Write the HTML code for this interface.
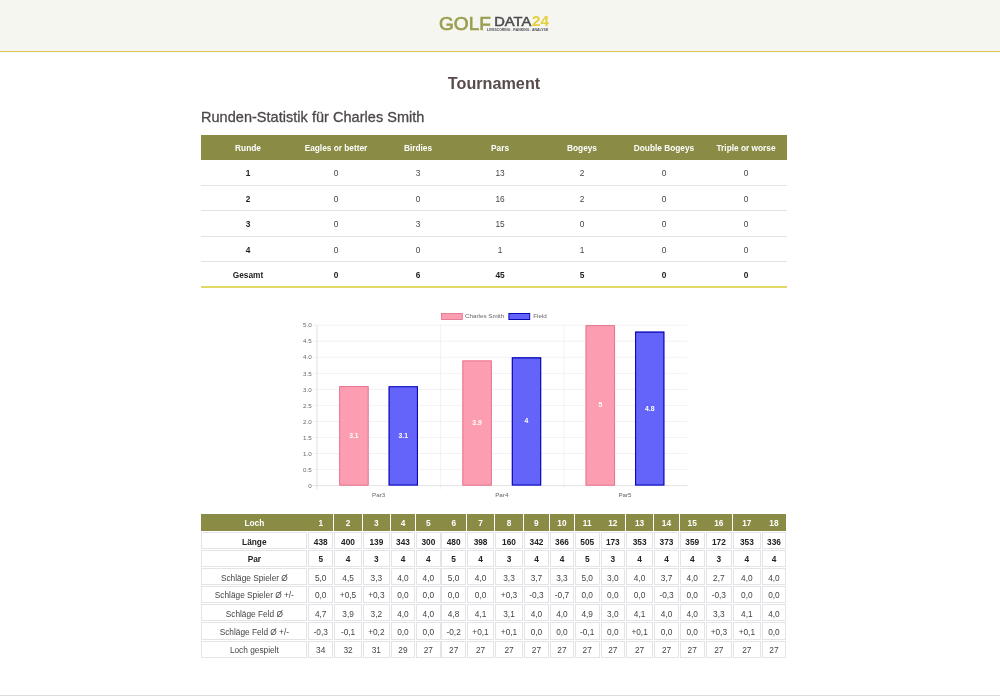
<!DOCTYPE html><html lang="de"><head><meta charset="utf-8"><title>Tournament</title><style>
*{box-sizing:border-box;margin:0;padding:0}
html,body{width:1000px;height:696px;overflow:hidden;background:#fff}
body{font-family:"Liberation Sans",sans-serif;color:#333;position:relative}
.hdr{position:absolute;left:0;top:0;width:1000px;height:51.7px;background:#f6f6f0;border-bottom:1.9px solid #dfc64e}
.logo{position:absolute;left:0;top:0;width:1000px;height:50px}
.title{position:absolute;left:0;width:988px;top:73.4px;text-align:center;font-weight:bold;font-size:16.2px;color:#584c4c;line-height:20px}
.h2{-webkit-text-stroke:0.3px #4d4848;position:absolute;left:201px;top:107.1px;font-size:14.5px;letter-spacing:0.03px;color:#4d4848;line-height:20px;white-space:nowrap}
.t1{position:absolute;left:201px;top:134.8px;width:586px;border-collapse:collapse;table-layout:fixed;font-size:8.3px;text-align:center;border-bottom:2px solid #e2d868}
.t1 th{padding-top:1.4px}.t1 td{padding-top:1.9px}
.t1 th{background:#8a8c46;color:#fff;font-weight:bold;height:24.8px;font-size:8.3px}
.t1 td{height:25.5px;border-top:1px solid #e3e3e3;color:#444}
.t1 tr:nth-child(2) td{border-top:none}
.t1 td:first-child,.t1 tr:last-child td{font-weight:bold;color:#222}
.t2{position:absolute;left:0;top:0;font-size:8.3px}
.c{position:absolute;text-align:center;border:0.6px solid #e4e4e8;color:#444;white-space:nowrap}
.c.h{background:#8a8c46;color:#fff;font-weight:bold;border-color:#8a8c46}
.c.b{font-weight:bold;color:#222}
.foot{position:absolute;left:0;top:695px;width:1000px;height:1px;background:#dcdcdc}
</style></head><body>
<div class="hdr"></div>
<svg class="logo" viewBox="0 0 1000 50" font-family="Liberation Sans, sans-serif">
<text x="439" y="30" font-size="19.2" fill="#9a9e50" stroke="#9a9e50" stroke-width="0.7" textLength="52" lengthAdjust="spacingAndGlyphs">GOLF</text>
<text x="494.2" y="26.1" font-size="12.9" fill="#4b4b4d" stroke="#4b4b4d" stroke-width="0.5" textLength="37" lengthAdjust="spacingAndGlyphs">DATA</text>
<text x="531.9" y="26.2" font-size="13.8" font-weight="bold" fill="#e6cf3e" textLength="17" lengthAdjust="spacingAndGlyphs">24</text>
<text x="486.8" y="31" font-size="3.3" font-weight="bold" fill="#4a4e5a" textLength="61.4" lengthAdjust="spacingAndGlyphs">LIVESCORING . RANKING . ANALYSE</text>
</svg>
<div class="title">Tournament</div>
<div class="h2">Runden-Statistik für Charles Smith</div>
<table class="t1"><colgroup><col style="width:94px"><col style="width:82px"><col style="width:82px"><col style="width:82px"><col style="width:82px"><col style="width:82px"><col style="width:82px"></colgroup>
<tr><th>Runde</th><th>Eagles or better</th><th>Birdies</th><th>Pars</th><th>Bogeys</th><th>Double Bogeys</th><th>Triple or worse</th></tr>
<tr><td>1</td><td>0</td><td>3</td><td>13</td><td>2</td><td>0</td><td>0</td></tr>
<tr><td>2</td><td>0</td><td>0</td><td>16</td><td>2</td><td>0</td><td>0</td></tr>
<tr><td>3</td><td>0</td><td>3</td><td>15</td><td>0</td><td>0</td><td>0</td></tr>
<tr><td>4</td><td>0</td><td>0</td><td>1</td><td>1</td><td>0</td><td>0</td></tr>
<tr><td>Gesamt</td><td>0</td><td>6</td><td>45</td><td>5</td><td>0</td><td>0</td></tr>
</table>
<svg class="chart" style="position:absolute;left:0;top:300px" width="1000" height="210" viewBox="0 300 1000 210" font-family="Liberation Sans, sans-serif">
<line x1="312.8" x2="687.4" y1="485.60" y2="485.60" stroke="#cfcfcf" stroke-width="0.6"/>
<text x="311.8" y="487.80" text-anchor="end" font-size="6.25" fill="#666">0</text>
<line x1="312.8" x2="687.4" y1="469.56" y2="469.56" stroke="#eaeaea" stroke-width="0.6"/>
<text x="311.8" y="471.76" text-anchor="end" font-size="6.25" fill="#666">0.5</text>
<line x1="312.8" x2="687.4" y1="453.52" y2="453.52" stroke="#eaeaea" stroke-width="0.6"/>
<text x="311.8" y="455.72" text-anchor="end" font-size="6.25" fill="#666">1.0</text>
<line x1="312.8" x2="687.4" y1="437.48" y2="437.48" stroke="#eaeaea" stroke-width="0.6"/>
<text x="311.8" y="439.68" text-anchor="end" font-size="6.25" fill="#666">1.5</text>
<line x1="312.8" x2="687.4" y1="421.44" y2="421.44" stroke="#eaeaea" stroke-width="0.6"/>
<text x="311.8" y="423.64" text-anchor="end" font-size="6.25" fill="#666">2.0</text>
<line x1="312.8" x2="687.4" y1="405.40" y2="405.40" stroke="#eaeaea" stroke-width="0.6"/>
<text x="311.8" y="407.60" text-anchor="end" font-size="6.25" fill="#666">2.5</text>
<line x1="312.8" x2="687.4" y1="389.36" y2="389.36" stroke="#eaeaea" stroke-width="0.6"/>
<text x="311.8" y="391.56" text-anchor="end" font-size="6.25" fill="#666">3.0</text>
<line x1="312.8" x2="687.4" y1="373.32" y2="373.32" stroke="#eaeaea" stroke-width="0.6"/>
<text x="311.8" y="375.52" text-anchor="end" font-size="6.25" fill="#666">3.5</text>
<line x1="312.8" x2="687.4" y1="357.28" y2="357.28" stroke="#eaeaea" stroke-width="0.6"/>
<text x="311.8" y="359.48" text-anchor="end" font-size="6.25" fill="#666">4.0</text>
<line x1="312.8" x2="687.4" y1="341.24" y2="341.24" stroke="#eaeaea" stroke-width="0.6"/>
<text x="311.8" y="343.44" text-anchor="end" font-size="6.25" fill="#666">4.5</text>
<line x1="312.8" x2="687.4" y1="325.20" y2="325.20" stroke="#eaeaea" stroke-width="0.6"/>
<text x="311.8" y="327.40" text-anchor="end" font-size="6.25" fill="#666">5.0</text>
<line x1="317.00" x2="317.00" y1="325.2" y2="489.1" stroke="#cfcfcf" stroke-width="0.6"/>
<line x1="440.47" x2="440.47" y1="325.2" y2="489.1" stroke="#eaeaea" stroke-width="0.6"/>
<line x1="563.93" x2="563.93" y1="325.2" y2="489.1" stroke="#eaeaea" stroke-width="0.6"/>
<rect x="339.20" y="386.15" width="29.40" height="99.45" fill="#fc9db2"/>
<path d="M339.60 485.20V386.55H368.20V485.20Z" fill="none" stroke="#e06a86" stroke-width="0.8"/>
<text x="353.90" y="437.78" text-anchor="middle" font-size="6.8" font-weight="bold" fill="#fff">3.1</text>
<rect x="388.60" y="386.15" width="29.40" height="99.45" fill="#6464fb"/>
<path d="M389.15 485.05V386.70H417.45V485.05Z" fill="none" stroke="#0a0ab4" stroke-width="1.1"/>
<text x="403.30" y="437.78" text-anchor="middle" font-size="6.8" font-weight="bold" fill="#fff">3.1</text>
<text x="378.60" y="496.60" text-anchor="middle" font-size="6.25" fill="#666">Par3</text>
<rect x="462.40" y="360.49" width="29.40" height="125.11" fill="#fc9db2"/>
<path d="M462.80 485.20V360.89H491.40V485.20Z" fill="none" stroke="#e06a86" stroke-width="0.8"/>
<text x="477.10" y="424.94" text-anchor="middle" font-size="6.8" font-weight="bold" fill="#fff">3.9</text>
<rect x="511.80" y="357.28" width="29.40" height="128.32" fill="#6464fb"/>
<path d="M512.35 485.05V357.83H540.65V485.05Z" fill="none" stroke="#0a0ab4" stroke-width="1.1"/>
<text x="526.50" y="423.34" text-anchor="middle" font-size="6.8" font-weight="bold" fill="#fff">4</text>
<text x="501.80" y="496.60" text-anchor="middle" font-size="6.25" fill="#666">Par4</text>
<rect x="585.60" y="325.20" width="29.40" height="160.40" fill="#fc9db2"/>
<path d="M586.00 485.20V325.60H614.60V485.20Z" fill="none" stroke="#e06a86" stroke-width="0.8"/>
<text x="600.30" y="407.30" text-anchor="middle" font-size="6.8" font-weight="bold" fill="#fff">5</text>
<rect x="635.00" y="331.62" width="29.40" height="153.98" fill="#6464fb"/>
<path d="M635.55 485.05V332.17H663.85V485.05Z" fill="none" stroke="#0a0ab4" stroke-width="1.1"/>
<text x="649.70" y="410.51" text-anchor="middle" font-size="6.8" font-weight="bold" fill="#fff">4.8</text>
<text x="625.00" y="496.60" text-anchor="middle" font-size="6.25" fill="#666">Par5</text>
<rect x="441.5" y="313.5" width="20.8" height="6" fill="#fc9db2" stroke="#e06a86" stroke-width="0.8"/>
<text x="465" y="318.3" font-size="6.25" fill="#666">Charles Smith</text>
<rect x="508.9" y="313.5" width="20.8" height="6" fill="#6464fb" stroke="#0a0ab4" stroke-width="1"/>
<text x="533.3" y="318.3" font-size="6.25" fill="#666">Field</text>
</svg>
<div class="t2">
<div class="c h" style="left:201.1px;top:514.3px;width:106.6px;height:17.0px;line-height:16.2px">Loch</div>
<div class="c h" style="left:308.3px;top:514.3px;width:25.0px;height:17.0px;line-height:16.2px">1</div>
<div class="c h" style="left:333.9px;top:514.3px;width:28.2px;height:17.0px;line-height:16.2px">2</div>
<div class="c h" style="left:362.7px;top:514.3px;width:27.4px;height:17.0px;line-height:16.2px">3</div>
<div class="c h" style="left:390.7px;top:514.3px;width:24.6px;height:17.0px;line-height:16.2px">4</div>
<div class="c h" style="left:415.9px;top:514.3px;width:24.8px;height:17.0px;line-height:16.2px">5</div>
<div class="c h" style="left:441.3px;top:514.3px;width:24.8px;height:17.0px;line-height:16.2px">6</div>
<div class="c h" style="left:466.7px;top:514.3px;width:27.8px;height:17.0px;line-height:16.2px">7</div>
<div class="c h" style="left:495.1px;top:514.3px;width:28.0px;height:17.0px;line-height:16.2px">8</div>
<div class="c h" style="left:523.7px;top:514.3px;width:25.4px;height:17.0px;line-height:16.2px">9</div>
<div class="c h" style="left:549.7px;top:514.3px;width:24.4px;height:17.0px;line-height:16.2px">10</div>
<div class="c h" style="left:574.7px;top:514.3px;width:25.0px;height:17.0px;line-height:16.2px">11</div>
<div class="c h" style="left:600.3px;top:514.3px;width:24.9px;height:17.0px;line-height:16.2px">12</div>
<div class="c h" style="left:625.8px;top:514.3px;width:27.5px;height:17.0px;line-height:16.2px">13</div>
<div class="c h" style="left:653.9px;top:514.3px;width:25.2px;height:17.0px;line-height:16.2px">14</div>
<div class="c h" style="left:679.7px;top:514.3px;width:25.0px;height:17.0px;line-height:16.2px">15</div>
<div class="c h" style="left:705.3px;top:514.3px;width:27.0px;height:17.0px;line-height:16.2px">16</div>
<div class="c h" style="left:732.9px;top:514.3px;width:27.8px;height:17.0px;line-height:16.2px">17</div>
<div class="c h" style="left:761.3px;top:514.3px;width:25.2px;height:17.0px;line-height:16.2px">18</div>
<div class="c b" style="left:201.2px;top:532.1px;width:106.3px;height:17.2px;line-height:18.0px">Länge</div>
<div class="c b" style="left:308.4px;top:532.1px;width:24.7px;height:17.2px;line-height:18.0px">438</div>
<div class="c b" style="left:334.1px;top:532.1px;width:27.9px;height:17.2px;line-height:18.0px">400</div>
<div class="c b" style="left:362.8px;top:532.1px;width:27.1px;height:17.2px;line-height:18.0px">139</div>
<div class="c b" style="left:390.8px;top:532.1px;width:24.3px;height:17.2px;line-height:18.0px">343</div>
<div class="c b" style="left:416.1px;top:532.1px;width:24.5px;height:17.2px;line-height:18.0px">300</div>
<div class="c b" style="left:441.4px;top:532.1px;width:24.5px;height:17.2px;line-height:18.0px">480</div>
<div class="c b" style="left:466.8px;top:532.1px;width:27.5px;height:17.2px;line-height:18.0px">398</div>
<div class="c b" style="left:495.2px;top:532.1px;width:27.7px;height:17.2px;line-height:18.0px">160</div>
<div class="c b" style="left:523.9px;top:532.1px;width:25.1px;height:17.2px;line-height:18.0px">342</div>
<div class="c b" style="left:549.9px;top:532.1px;width:24.1px;height:17.2px;line-height:18.0px">366</div>
<div class="c b" style="left:574.9px;top:532.1px;width:24.7px;height:17.2px;line-height:18.0px">505</div>
<div class="c b" style="left:600.5px;top:532.1px;width:24.6px;height:17.2px;line-height:18.0px">173</div>
<div class="c b" style="left:626.0px;top:532.1px;width:27.2px;height:17.2px;line-height:18.0px">353</div>
<div class="c b" style="left:654.1px;top:532.1px;width:24.9px;height:17.2px;line-height:18.0px">373</div>
<div class="c b" style="left:679.9px;top:532.1px;width:24.7px;height:17.2px;line-height:18.0px">359</div>
<div class="c b" style="left:705.5px;top:532.1px;width:26.7px;height:17.2px;line-height:18.0px">172</div>
<div class="c b" style="left:733.1px;top:532.1px;width:27.5px;height:17.2px;line-height:18.0px">353</div>
<div class="c b" style="left:761.5px;top:532.1px;width:24.9px;height:17.2px;line-height:18.0px">336</div>
<div class="c b" style="left:201.2px;top:550.2px;width:106.3px;height:17.1px;line-height:17.9px">Par</div>
<div class="c b" style="left:308.4px;top:550.2px;width:24.7px;height:17.1px;line-height:17.9px">5</div>
<div class="c b" style="left:334.1px;top:550.2px;width:27.9px;height:17.1px;line-height:17.9px">4</div>
<div class="c b" style="left:362.8px;top:550.2px;width:27.1px;height:17.1px;line-height:17.9px">3</div>
<div class="c b" style="left:390.8px;top:550.2px;width:24.3px;height:17.1px;line-height:17.9px">4</div>
<div class="c b" style="left:416.1px;top:550.2px;width:24.5px;height:17.1px;line-height:17.9px">4</div>
<div class="c b" style="left:441.4px;top:550.2px;width:24.5px;height:17.1px;line-height:17.9px">5</div>
<div class="c b" style="left:466.8px;top:550.2px;width:27.5px;height:17.1px;line-height:17.9px">4</div>
<div class="c b" style="left:495.2px;top:550.2px;width:27.7px;height:17.1px;line-height:17.9px">3</div>
<div class="c b" style="left:523.9px;top:550.2px;width:25.1px;height:17.1px;line-height:17.9px">4</div>
<div class="c b" style="left:549.9px;top:550.2px;width:24.1px;height:17.1px;line-height:17.9px">4</div>
<div class="c b" style="left:574.9px;top:550.2px;width:24.7px;height:17.1px;line-height:17.9px">5</div>
<div class="c b" style="left:600.5px;top:550.2px;width:24.6px;height:17.1px;line-height:17.9px">3</div>
<div class="c b" style="left:626.0px;top:550.2px;width:27.2px;height:17.1px;line-height:17.9px">4</div>
<div class="c b" style="left:654.1px;top:550.2px;width:24.9px;height:17.1px;line-height:17.9px">4</div>
<div class="c b" style="left:679.9px;top:550.2px;width:24.7px;height:17.1px;line-height:17.9px">4</div>
<div class="c b" style="left:705.5px;top:550.2px;width:26.7px;height:17.1px;line-height:17.9px">3</div>
<div class="c b" style="left:733.1px;top:550.2px;width:27.5px;height:17.1px;line-height:17.9px">4</div>
<div class="c b" style="left:761.5px;top:550.2px;width:24.9px;height:17.1px;line-height:17.9px">4</div>
<div class="c" style="left:201.2px;top:568.2px;width:106.3px;height:17.2px;line-height:18.0px">Schläge Spieler Ø</div>
<div class="c" style="left:308.4px;top:568.2px;width:24.7px;height:17.2px;line-height:18.0px">5,0</div>
<div class="c" style="left:334.1px;top:568.2px;width:27.9px;height:17.2px;line-height:18.0px">4,5</div>
<div class="c" style="left:362.8px;top:568.2px;width:27.1px;height:17.2px;line-height:18.0px">3,3</div>
<div class="c" style="left:390.8px;top:568.2px;width:24.3px;height:17.2px;line-height:18.0px">4,0</div>
<div class="c" style="left:416.1px;top:568.2px;width:24.5px;height:17.2px;line-height:18.0px">4,0</div>
<div class="c" style="left:441.4px;top:568.2px;width:24.5px;height:17.2px;line-height:18.0px">5,0</div>
<div class="c" style="left:466.8px;top:568.2px;width:27.5px;height:17.2px;line-height:18.0px">4,0</div>
<div class="c" style="left:495.2px;top:568.2px;width:27.7px;height:17.2px;line-height:18.0px">3,3</div>
<div class="c" style="left:523.9px;top:568.2px;width:25.1px;height:17.2px;line-height:18.0px">3,7</div>
<div class="c" style="left:549.9px;top:568.2px;width:24.1px;height:17.2px;line-height:18.0px">3,3</div>
<div class="c" style="left:574.9px;top:568.2px;width:24.7px;height:17.2px;line-height:18.0px">5,0</div>
<div class="c" style="left:600.5px;top:568.2px;width:24.6px;height:17.2px;line-height:18.0px">3,0</div>
<div class="c" style="left:626.0px;top:568.2px;width:27.2px;height:17.2px;line-height:18.0px">4,0</div>
<div class="c" style="left:654.1px;top:568.2px;width:24.9px;height:17.2px;line-height:18.0px">3,7</div>
<div class="c" style="left:679.9px;top:568.2px;width:24.7px;height:17.2px;line-height:18.0px">4,0</div>
<div class="c" style="left:705.5px;top:568.2px;width:26.7px;height:17.2px;line-height:18.0px">2,7</div>
<div class="c" style="left:733.1px;top:568.2px;width:27.5px;height:17.2px;line-height:18.0px">4,0</div>
<div class="c" style="left:761.5px;top:568.2px;width:24.9px;height:17.2px;line-height:18.0px">4,0</div>
<div class="c" style="left:201.2px;top:586.2px;width:106.3px;height:17.1px;line-height:17.9px">Schläge Spieler Ø +/-</div>
<div class="c" style="left:308.4px;top:586.2px;width:24.7px;height:17.1px;line-height:17.9px">0,0</div>
<div class="c" style="left:334.1px;top:586.2px;width:27.9px;height:17.1px;line-height:17.9px">+0,5</div>
<div class="c" style="left:362.8px;top:586.2px;width:27.1px;height:17.1px;line-height:17.9px">+0,3</div>
<div class="c" style="left:390.8px;top:586.2px;width:24.3px;height:17.1px;line-height:17.9px">0,0</div>
<div class="c" style="left:416.1px;top:586.2px;width:24.5px;height:17.1px;line-height:17.9px">0,0</div>
<div class="c" style="left:441.4px;top:586.2px;width:24.5px;height:17.1px;line-height:17.9px">0,0</div>
<div class="c" style="left:466.8px;top:586.2px;width:27.5px;height:17.1px;line-height:17.9px">0,0</div>
<div class="c" style="left:495.2px;top:586.2px;width:27.7px;height:17.1px;line-height:17.9px">+0,3</div>
<div class="c" style="left:523.9px;top:586.2px;width:25.1px;height:17.1px;line-height:17.9px">-0,3</div>
<div class="c" style="left:549.9px;top:586.2px;width:24.1px;height:17.1px;line-height:17.9px">-0,7</div>
<div class="c" style="left:574.9px;top:586.2px;width:24.7px;height:17.1px;line-height:17.9px">0,0</div>
<div class="c" style="left:600.5px;top:586.2px;width:24.6px;height:17.1px;line-height:17.9px">0,0</div>
<div class="c" style="left:626.0px;top:586.2px;width:27.2px;height:17.1px;line-height:17.9px">0,0</div>
<div class="c" style="left:654.1px;top:586.2px;width:24.9px;height:17.1px;line-height:17.9px">-0,3</div>
<div class="c" style="left:679.9px;top:586.2px;width:24.7px;height:17.1px;line-height:17.9px">0,0</div>
<div class="c" style="left:705.5px;top:586.2px;width:26.7px;height:17.1px;line-height:17.9px">-0,3</div>
<div class="c" style="left:733.1px;top:586.2px;width:27.5px;height:17.1px;line-height:17.9px">0,0</div>
<div class="c" style="left:761.5px;top:586.2px;width:24.9px;height:17.1px;line-height:17.9px">0,0</div>
<div class="c" style="left:201.2px;top:604.2px;width:106.3px;height:17.2px;line-height:18.0px">Schläge Feld Ø</div>
<div class="c" style="left:308.4px;top:604.2px;width:24.7px;height:17.2px;line-height:18.0px">4,7</div>
<div class="c" style="left:334.1px;top:604.2px;width:27.9px;height:17.2px;line-height:18.0px">3,9</div>
<div class="c" style="left:362.8px;top:604.2px;width:27.1px;height:17.2px;line-height:18.0px">3,2</div>
<div class="c" style="left:390.8px;top:604.2px;width:24.3px;height:17.2px;line-height:18.0px">4,0</div>
<div class="c" style="left:416.1px;top:604.2px;width:24.5px;height:17.2px;line-height:18.0px">4,0</div>
<div class="c" style="left:441.4px;top:604.2px;width:24.5px;height:17.2px;line-height:18.0px">4,8</div>
<div class="c" style="left:466.8px;top:604.2px;width:27.5px;height:17.2px;line-height:18.0px">4,1</div>
<div class="c" style="left:495.2px;top:604.2px;width:27.7px;height:17.2px;line-height:18.0px">3,1</div>
<div class="c" style="left:523.9px;top:604.2px;width:25.1px;height:17.2px;line-height:18.0px">4,0</div>
<div class="c" style="left:549.9px;top:604.2px;width:24.1px;height:17.2px;line-height:18.0px">4,0</div>
<div class="c" style="left:574.9px;top:604.2px;width:24.7px;height:17.2px;line-height:18.0px">4,9</div>
<div class="c" style="left:600.5px;top:604.2px;width:24.6px;height:17.2px;line-height:18.0px">3,0</div>
<div class="c" style="left:626.0px;top:604.2px;width:27.2px;height:17.2px;line-height:18.0px">4,1</div>
<div class="c" style="left:654.1px;top:604.2px;width:24.9px;height:17.2px;line-height:18.0px">4,0</div>
<div class="c" style="left:679.9px;top:604.2px;width:24.7px;height:17.2px;line-height:18.0px">4,0</div>
<div class="c" style="left:705.5px;top:604.2px;width:26.7px;height:17.2px;line-height:18.0px">3,3</div>
<div class="c" style="left:733.1px;top:604.2px;width:27.5px;height:17.2px;line-height:18.0px">4,1</div>
<div class="c" style="left:761.5px;top:604.2px;width:24.9px;height:17.2px;line-height:18.0px">4,0</div>
<div class="c" style="left:201.2px;top:622.4px;width:106.3px;height:17.2px;line-height:18.0px">Schläge Feld Ø +/-</div>
<div class="c" style="left:308.4px;top:622.4px;width:24.7px;height:17.2px;line-height:18.0px">-0,3</div>
<div class="c" style="left:334.1px;top:622.4px;width:27.9px;height:17.2px;line-height:18.0px">-0,1</div>
<div class="c" style="left:362.8px;top:622.4px;width:27.1px;height:17.2px;line-height:18.0px">+0,2</div>
<div class="c" style="left:390.8px;top:622.4px;width:24.3px;height:17.2px;line-height:18.0px">0,0</div>
<div class="c" style="left:416.1px;top:622.4px;width:24.5px;height:17.2px;line-height:18.0px">0,0</div>
<div class="c" style="left:441.4px;top:622.4px;width:24.5px;height:17.2px;line-height:18.0px">-0,2</div>
<div class="c" style="left:466.8px;top:622.4px;width:27.5px;height:17.2px;line-height:18.0px">+0,1</div>
<div class="c" style="left:495.2px;top:622.4px;width:27.7px;height:17.2px;line-height:18.0px">+0,1</div>
<div class="c" style="left:523.9px;top:622.4px;width:25.1px;height:17.2px;line-height:18.0px">0,0</div>
<div class="c" style="left:549.9px;top:622.4px;width:24.1px;height:17.2px;line-height:18.0px">0,0</div>
<div class="c" style="left:574.9px;top:622.4px;width:24.7px;height:17.2px;line-height:18.0px">-0,1</div>
<div class="c" style="left:600.5px;top:622.4px;width:24.6px;height:17.2px;line-height:18.0px">0,0</div>
<div class="c" style="left:626.0px;top:622.4px;width:27.2px;height:17.2px;line-height:18.0px">+0,1</div>
<div class="c" style="left:654.1px;top:622.4px;width:24.9px;height:17.2px;line-height:18.0px">0,0</div>
<div class="c" style="left:679.9px;top:622.4px;width:24.7px;height:17.2px;line-height:18.0px">0,0</div>
<div class="c" style="left:705.5px;top:622.4px;width:26.7px;height:17.2px;line-height:18.0px">+0,3</div>
<div class="c" style="left:733.1px;top:622.4px;width:27.5px;height:17.2px;line-height:18.0px">+0,1</div>
<div class="c" style="left:761.5px;top:622.4px;width:24.9px;height:17.2px;line-height:18.0px">0,0</div>
<div class="c" style="left:201.2px;top:640.5px;width:106.3px;height:17.1px;line-height:17.9px">Loch gespielt</div>
<div class="c" style="left:308.4px;top:640.5px;width:24.7px;height:17.1px;line-height:17.9px">34</div>
<div class="c" style="left:334.1px;top:640.5px;width:27.9px;height:17.1px;line-height:17.9px">32</div>
<div class="c" style="left:362.8px;top:640.5px;width:27.1px;height:17.1px;line-height:17.9px">31</div>
<div class="c" style="left:390.8px;top:640.5px;width:24.3px;height:17.1px;line-height:17.9px">29</div>
<div class="c" style="left:416.1px;top:640.5px;width:24.5px;height:17.1px;line-height:17.9px">27</div>
<div class="c" style="left:441.4px;top:640.5px;width:24.5px;height:17.1px;line-height:17.9px">27</div>
<div class="c" style="left:466.8px;top:640.5px;width:27.5px;height:17.1px;line-height:17.9px">27</div>
<div class="c" style="left:495.2px;top:640.5px;width:27.7px;height:17.1px;line-height:17.9px">27</div>
<div class="c" style="left:523.9px;top:640.5px;width:25.1px;height:17.1px;line-height:17.9px">27</div>
<div class="c" style="left:549.9px;top:640.5px;width:24.1px;height:17.1px;line-height:17.9px">27</div>
<div class="c" style="left:574.9px;top:640.5px;width:24.7px;height:17.1px;line-height:17.9px">27</div>
<div class="c" style="left:600.5px;top:640.5px;width:24.6px;height:17.1px;line-height:17.9px">27</div>
<div class="c" style="left:626.0px;top:640.5px;width:27.2px;height:17.1px;line-height:17.9px">27</div>
<div class="c" style="left:654.1px;top:640.5px;width:24.9px;height:17.1px;line-height:17.9px">27</div>
<div class="c" style="left:679.9px;top:640.5px;width:24.7px;height:17.1px;line-height:17.9px">27</div>
<div class="c" style="left:705.5px;top:640.5px;width:26.7px;height:17.1px;line-height:17.9px">27</div>
<div class="c" style="left:733.1px;top:640.5px;width:27.5px;height:17.1px;line-height:17.9px">27</div>
<div class="c" style="left:761.5px;top:640.5px;width:24.9px;height:17.1px;line-height:17.9px">27</div>
</div>
<div class="foot"></div>
</body></html>
